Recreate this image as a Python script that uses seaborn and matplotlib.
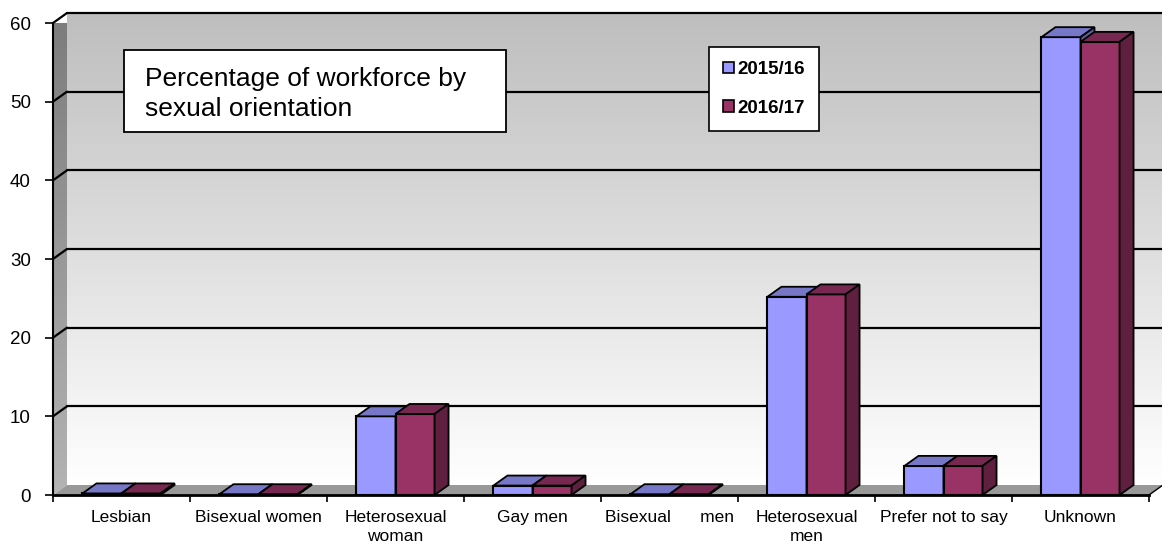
import matplotlib
matplotlib.use("Agg")
import matplotlib.pyplot as plt
import seaborn as sns
import pandas as pd
import numpy as np
from matplotlib.patches import Polygon, Rectangle, Patch
from matplotlib.colors import LinearSegmentedColormap, to_rgb

# Data
categories = ["Lesbian", "Bisexual women", "Heterosexual\nwoman", "Gay men",
              "Bisexual      men", "Heterosexual\nmen", "Prefer not to say", "Unknown"]
years = ["2015/16", "2016/17"]
pct_2015 = [0.2, 0.1, 10.0, 1.2, 0.1, 25.2, 3.7, 58.2]
pct_2016 = [0.2, 0.1, 10.3, 1.2, 0.1, 25.5, 3.7, 57.6]
colors = ["#9999ff", "#993366"]

df = pd.DataFrame({
    "category": categories * 2,
    "year": [years[0]] * len(categories) + [years[1]] * len(categories),
    "pct": pct_2015 + pct_2016,
})

sns.set_style("ticks")
plt.rcParams["font.family"] = ["Liberation Sans", "DejaVu Sans"]
plt.rcParams["text.color"] = "black"
plt.rcParams["xtick.color"] = "black"
plt.rcParams["ytick.color"] = "black"

fig = plt.figure(figsize=(11.62, 5.47), dpi=100)
ax = fig.add_axes([53 / 1162, 52 / 547, 1096 / 1162, 472 / 547])
ax.patch.set_visible(False)

sns.barplot(data=df, x="category", y="pct", hue="year", order=categories,
            hue_order=years, palette=colors, saturation=1, width=0.57, gap=0,
            edgecolor="black", linewidth=1.5, errorbar=None, legend=False, ax=ax)

XLIM, YLIM = (-0.5, len(categories) - 0.5), (0, 60)
ax.set_xlim(*XLIM)
ax.set_ylim(*YLIM)

# 3D depth offset in pixels
DX, DY = 14, 10


def back(x, y):
    px = ax.transData.transform((x, y))
    return ax.transData.inverted().transform(px + np.array([DX, DY]))


# back wall with grey -> white gradient
bl = back(XLIM[0], 0)
tr = back(XLIM[1], 60)
wall_cmap = LinearSegmentedColormap.from_list("wall", ["#bebebe", "#ffffff"])
grad = np.linspace(0, 1, 256).reshape(-1, 1)
ax.imshow(grad, cmap=wall_cmap, extent=(bl[0], tr[0], bl[1], tr[1]),
          aspect="auto", origin="upper", zorder=0, clip_on=False)

# left side wall
side_pts = [(XLIM[0], 0), (XLIM[0], 60), tuple(back(XLIM[0], 60)), tuple(back(XLIM[0], 0))]
side_poly = Polygon(side_pts, closed=True, transform=ax.transData)
side_cmap = LinearSegmentedColormap.from_list("side", ["#7c7c7c", "#b4b4b4"])
im = ax.imshow(grad, cmap=side_cmap,
               extent=(XLIM[0], back(XLIM[0], 0)[0], 0, back(XLIM[0], 60)[1]),
               aspect="auto", origin="upper", zorder=0.5)
im.set_clip_path(side_poly)
im.set_clip_box(None)

# floor
floor_pts = [(XLIM[0], 0), (XLIM[1], 0), tuple(back(XLIM[1], 0)), tuple(back(XLIM[0], 0))]
ax.add_patch(Polygon(floor_pts, closed=True, facecolor="#999999", edgecolor="none",
                     zorder=1, clip_on=False))
fr = back(XLIM[1], 0)
ax.plot([XLIM[1], fr[0]], [0, fr[1]], color="black", lw=1, zorder=1.2, clip_on=False)

# gridlines on back wall and side wall
for v in range(10, 61, 10):
    b0 = back(XLIM[0], v)
    b1 = back(XLIM[1], v)
    ax.plot([b0[0], b1[0]], [b0[1], b1[1]], color="black", lw=1.6, zorder=1, clip_on=False)
    ax.plot([XLIM[0], b0[0]], [v, b0[1]], color="black", lw=1.6, zorder=1, clip_on=False)

ax.set_xlim(*XLIM)
ax.set_ylim(*YLIM)


def shade(c, f):
    r, g, b = to_rgb(c)
    return (r * f, g * f, b * f)


# top and side faces of the bars
for i, cont in enumerate(ax.containers):
    z = 3 + i
    for bar in cont:
        bar.set_zorder(z)
        x0 = bar.get_x()
        x1 = x0 + bar.get_width()
        h = bar.get_height()
        fc = bar.get_facecolor()
        top = [(x0, h), (x1, h), tuple(back(x1, h)), tuple(back(x0, h))]
        side = [(x1, 0), (x1, h), tuple(back(x1, h)), tuple(back(x1, 0))]
        ax.add_patch(Polygon(top, closed=True, facecolor=shade(fc, 0.78),
                             edgecolor="black", lw=1.3, zorder=z, clip_on=False))
        ax.add_patch(Polygon(side, closed=True, facecolor=shade(fc, 0.62),
                             edgecolor="black", lw=1.3, zorder=z, clip_on=False))

# axes, ticks and labels
sns.despine(ax=ax, top=True, right=True)
ax.spines["left"].set_linewidth(1.5)
ax.spines["left"].set_color("black")
ax.spines["bottom"].set_linewidth(2)
ax.spines["bottom"].set_color("black")

ax.set_xticks(np.arange(XLIM[0], XLIM[1] + 0.01, 1))
ax.set_xticklabels([])
ax.set_xticks(range(len(categories)), minor=True)
ax.set_xticklabels(categories, minor=True, fontsize=12.5, linespacing=1.35)
ax.tick_params(axis="x", which="major", bottom=True, direction="out", length=5, width=1.2)
ax.tick_params(axis="x", which="minor", bottom=True, length=0, pad=11)
ax.set_yticks(range(0, 61, 10))
ax.tick_params(axis="y", left=True, direction="out", length=6, width=1.2, pad=10,
               labelsize=13.5)
ax.set_xlabel("")
ax.set_ylabel("")

# legend
handles = [Patch(facecolor=c, edgecolor="black", lw=1.2, label=y) for c, y in zip(colors, years)]
leg = fig.legend(handles=handles, loc="upper left", bbox_to_anchor=(709 / 1162, 1 - 47 / 547),
                 frameon=True, fancybox=False, edgecolor="black", framealpha=1,
                 prop={"weight": "bold", "size": 13.5}, handlelength=0.6, handleheight=0.6,
                 handletextpad=0.15, labelspacing=1.15, borderpad=0.75, borderaxespad=0)
leg.get_frame().set_linewidth(1.2)

# title box
fig.add_artist(Rectangle((124 / 1162, 1 - 132 / 547), (506 - 124) / 1162, (132 - 50) / 547,
                         transform=fig.transFigure, facecolor="white", edgecolor="black",
                         lw=1.3, zorder=5))
fig.text(145 / 1162, 1 - 94 / 547, "Percentage of workforce by\nsexual orientation",
         fontsize=19, ha="left", va="center", linespacing=1.3, zorder=6)

fig.savefig("out.png", dpi=100)
